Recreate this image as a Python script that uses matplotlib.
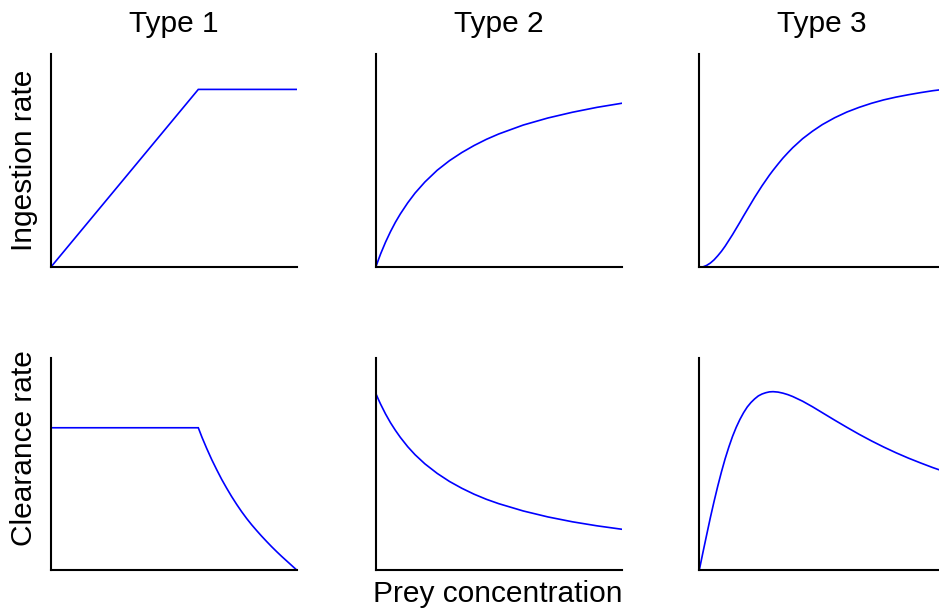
import matplotlib.pyplot as plt

plt.rcParams["font.family"] = ["Liberation Sans", "DejaVu Sans"]

W, H = 939, 613

# Curves read as fractions of each panel's axis range
type1_ing_x = [0.0, 0.6, 1.0]
type1_ing_y = [0.0, 0.834, 0.834]

type1_clr_x = [0.0, 0.6, 0.615, 0.634, 0.655, 0.675, 0.695, 0.715, 0.735, 0.756, 0.776,
               0.797, 0.817, 0.837, 0.857, 0.878, 0.898, 0.919, 0.939, 0.959, 0.979, 1.0]
type1_clr_y = [0.67, 0.67, 0.625, 0.573, 0.519, 0.472, 0.427, 0.386, 0.347, 0.309, 0.275,
               0.242, 0.213, 0.186, 0.160, 0.134, 0.110, 0.086, 0.064, 0.043, 0.022, 0.0]

type2_x = [0.0, 0.01, 0.02, 0.04, 0.06, 0.08, 0.1, 0.13, 0.16, 0.2, 0.25,
           0.3, 0.35, 0.4, 0.45, 0.5, 0.6, 0.7, 0.8, 0.9, 1.0]
type2_ing_y = [0.0, 0.032, 0.063, 0.118, 0.167, 0.211, 0.25, 0.302, 0.348, 0.40, 0.455,
               0.50, 0.538, 0.571, 0.60, 0.625, 0.667, 0.70, 0.727, 0.75, 0.769]
type2_clr_y = [0.833, 0.806, 0.781, 0.735, 0.694, 0.658, 0.625, 0.581, 0.543, 0.50, 0.455,
               0.417, 0.385, 0.357, 0.333, 0.3125, 0.278, 0.25, 0.227, 0.208, 0.192]

type3_x = [0.0, 0.015, 0.03, 0.045, 0.06, 0.075, 0.09, 0.105, 0.12, 0.135,
           0.15, 0.165, 0.18, 0.195, 0.21, 0.225, 0.24, 0.255, 0.27, 0.285,
           0.3, 0.32, 0.34, 0.36, 0.38, 0.42, 0.46, 0.5, 0.55, 0.6,
           0.65, 0.7, 0.75, 0.8, 0.85, 0.9, 0.95, 1.0]
type3_ing_y = [0.0, 0.002, 0.009, 0.020, 0.035, 0.054, 0.075, 0.099, 0.126, 0.153,
               0.182, 0.211, 0.241, 0.270, 0.299, 0.328, 0.355, 0.382, 0.407, 0.432,
               0.455, 0.484, 0.512, 0.537, 0.561, 0.603, 0.638, 0.669, 0.701, 0.728,
               0.750, 0.769, 0.785, 0.798, 0.809, 0.819, 0.828, 0.835]
type3_clr_y = [0.0, 0.084, 0.166, 0.247, 0.323, 0.395, 0.462, 0.524, 0.579, 0.629,
               0.672, 0.709, 0.741, 0.768, 0.789, 0.806, 0.820, 0.829, 0.835, 0.839,
               0.84, 0.838, 0.833, 0.826, 0.817, 0.795, 0.769, 0.741, 0.706, 0.672,
               0.639, 0.608, 0.579, 0.552, 0.527, 0.504, 0.482, 0.462]

titles = ["Type 1", "Type 2", "Type 3"]
row_labels = ["Ingestion rate", "Clearance rate"]
x_label = "Prey concentration"

curves = [
    [(type1_ing_x, type1_ing_y), (type2_x, type2_ing_y), (type3_x, type3_ing_y)],
    [(type1_clr_x, type1_clr_y), (type2_x, type2_clr_y), (type3_x, type3_clr_y)],
]

# panel geometry in pixels: column left edges, row (top, bottom)
col_left = [50.7, 375.7, 699.3]
col_width = 246
rows_px = [(54, 267.3), (357.7, 570)]

fig = plt.figure(figsize=(W / 100, H / 100), dpi=100)

for r, (top, bottom) in enumerate(rows_px):
    for c, left in enumerate(col_left):
        ax = fig.add_axes([left / W, 1 - bottom / H, col_width / W, (bottom - top) / H])
        xs, ys = curves[r][c]
        ax.plot(xs, ys, color="#0000ff", lw=1.2, solid_joinstyle="miter")
        ax.set_xlim(0, 1)
        ax.set_ylim(0, 1)
        for side in ("top", "right"):
            ax.spines[side].set_visible(False)
        for side in ("left", "bottom"):
            ax.spines[side].set_linewidth(1.5)
        ax.set_xticks([])
        ax.set_yticks([])
        ax.patch.set_alpha(0)
        if r == 0:
            fig.text((left + col_width / 2) / W, 1 - 31.7 / H, titles[c],
                     ha="center", va="baseline", fontsize=21.5)

fig.text(24 / W, 1 - 160 / H, row_labels[0], rotation=90, ha="center", va="center", fontsize=21.5)
fig.text(24 / W, 1 - 448 / H, row_labels[1], rotation=90, ha="center", va="center", fontsize=21.5)
fig.text(498 / W, 1 - 601.7 / H, x_label, ha="center", va="baseline", fontsize=21.5)

fig.savefig("out.png", dpi=100)
